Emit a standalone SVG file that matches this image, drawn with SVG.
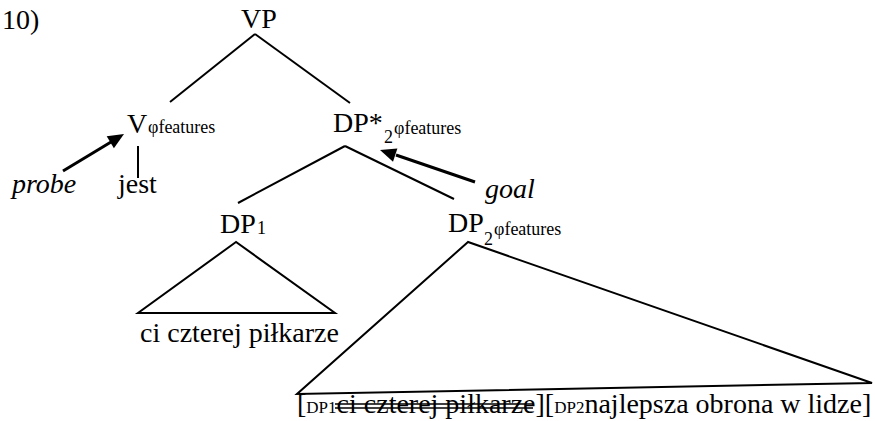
<svg xmlns="http://www.w3.org/2000/svg" width="875" height="421" viewBox="0 0 875 421" style="font-family:'Liberation Serif','Times New Roman',serif">
<rect width="875" height="421" fill="#fff"/>
<text style="font-family:'Liberation Serif','Times New Roman',serif;font-size:28px" x="2" y="29">10)</text>
<g id="vp"><text style="font-family:'Liberation Serif','Times New Roman',serif;font-size:28px" x="241" y="28">VP</text></g>
<g id="v"><text style="font-family:'Liberation Serif','Times New Roman',serif;font-size:28px" x="127" y="133">V<tspan style="font-size:18px" x="148" y="133">&#966;features</tspan></text></g>
<g id="jest"><text style="font-family:'Liberation Serif','Times New Roman',serif;font-size:28px" x="118" y="193">jest</text></g>
<g id="probe"><text style="font-family:'Liberation Serif','Times New Roman',serif;font-size:28px;font-style:italic" x="12" y="193">probe</text></g>
<g id="dpstar"><text style="font-family:'Liberation Serif','Times New Roman',serif;font-size:28px" x="333" y="132">DP*<tspan style="font-size:18px" x="384" y="143">2</tspan><tspan style="font-size:18px" x="394" y="134">&#966;features</tspan></text></g>
<g id="goal"><text style="font-family:'Liberation Serif','Times New Roman',serif;font-size:28px;font-style:italic" x="485" y="198">goal</text></g>
<g id="dp1"><text style="font-family:'Liberation Serif','Times New Roman',serif;font-size:28px" x="220" y="233">DP<tspan style="font-size:18px" x="257" y="234">1</tspan></text>
<path d="M236,242 L138,313 L335,313 Z" fill="none" stroke="#000" stroke-width="2"/>
<text style="font-family:'Liberation Serif','Times New Roman',serif;font-size:28px" x="140" y="342">ci czterej pi&#322;karze</text></g>
<g id="dp2"><text style="font-family:'Liberation Serif','Times New Roman',serif;font-size:28px" x="448" y="232">DP<tspan style="font-size:18px" x="484" y="245">2</tspan><tspan style="font-size:18px" x="494" y="235">&#966;features</tspan></text>
<path d="M468,242 L297,394 L872,383 Z" fill="none" stroke="#000" stroke-width="2"/>
<text style="font-family:'Liberation Serif','Times New Roman',serif;font-size:28px" x="297" y="413">[<tspan style="font-size:17px">DP1</tspan>ci czterej pi&#322;karze][<tspan style="font-size:17px">DP2</tspan>najlepsza obrona w lidze]</text>
<line x1="335" y1="404" x2="533" y2="404" stroke="#000" stroke-width="1.5"/>
<line x1="335" y1="408" x2="533" y2="408" stroke="#000" stroke-width="1.5"/>
</g>
<g id="connectors" stroke="#000" fill="none">
<line x1="255" y1="34" x2="170" y2="102" stroke-width="2"/>
<line x1="255" y1="34" x2="350" y2="103" stroke-width="2"/>
<line x1="138" y1="146" x2="138" y2="178" stroke-width="2"/>
<line x1="345" y1="146" x2="238" y2="203" stroke-width="2"/>
<line x1="345" y1="146" x2="454" y2="199" stroke-width="2"/>
<line x1="63" y1="171" x2="111" y2="142" stroke-width="3"/>
<polygon points="124,134 113.9,148.2 106.7,136.2" fill="#000" stroke="none"/>
<line x1="475" y1="182" x2="396" y2="155" stroke-width="3"/>
<polygon points="380,150 397.4,148.5 393,161.7" fill="#000" stroke="none"/>
</g>
</svg>
